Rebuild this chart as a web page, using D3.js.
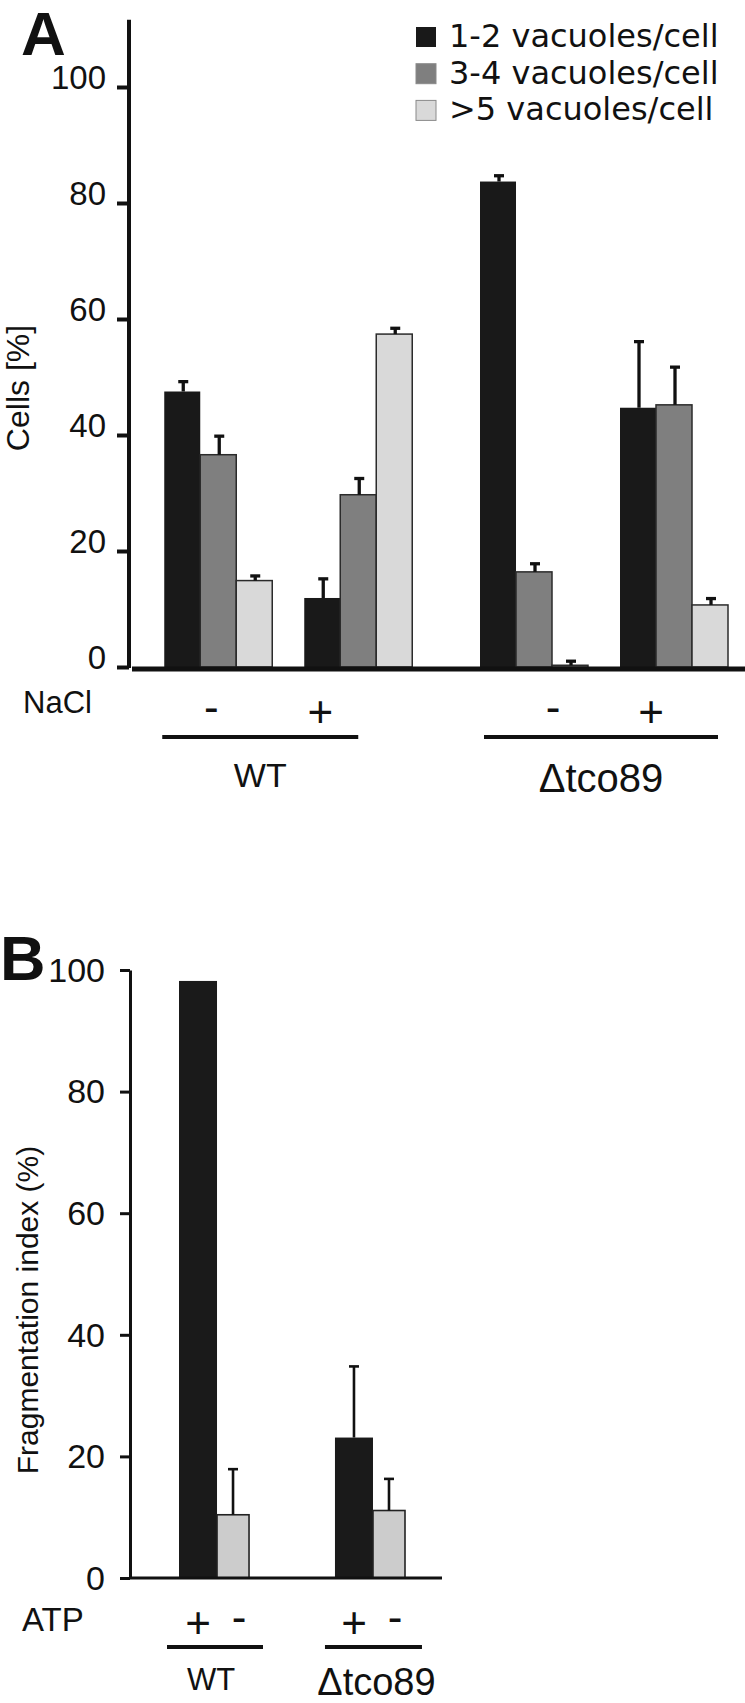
<!DOCTYPE html>
<html>
<head>
<meta charset="utf-8">
<script src="https://cdn.jsdelivr.net/npm/d3@7"></script>
<style>
  html, body { margin: 0; padding: 0; background: #fff; }
  svg { display: block; font-family: "Liberation Sans", Arial, Helvetica, sans-serif; }
</style>
</head>
<body>
<svg id="chart" width="745" height="1703"></svg>
<script>
// ---------- Panel A data ----------
const seriesA = ["1-2 vacuoles/cell", "3-4 vacuoles/cell", ">5 vacuoles/cell"];
const strainA = ["WT", "WT", "Δtco89", "Δtco89"];
const naclA = ["-", "+", "-", "+"];
const vac12 = [47.5, 11.9, 83.7, 44.7];
const vac12Err = [1.7, 3.3, 1.0, 11.4];
const vac34 = [36.6, 29.7, 16.4, 45.2];
const vac34Err = [3.2, 2.8, 1.4, 6.5];
const vac5 = [14.9, 57.4, 0.3, 10.7];
const vac5Err = [0.8, 1.0, 0.7, 1.1];
const yTicksA = [0, 20, 40, 60, 80, 100];

// ---------- Panel B data ----------
const strainB = ["WT", "Δtco89"];
const atpLevels = ["+", "-"];
const atpPlus = [98.2, 23.1];
const atpPlusErr = [0, 11.7];
const atpMinus = [10.4, 11.1];
const atpMinusErr = [7.5, 5.2];
const yTicksB = [0, 20, 40, 60, 80, 100];

const colorsA = ["#191919", "#7f7f7f", "#d9d9d9"];
const colorsB = ["#1a1a1a", "#cccccc"];
const SANS = "Liberation Sans, Arial, Helvetica, sans-serif";
const WIDE = "DejaVu Sans, Verdana, sans-serif";

const svg = d3.select("#chart");
svg.append("rect").attr("width", 745).attr("height", 1703).attr("fill", "#fff");

// =================== PANEL A ===================
const gA = svg.append("g").attr("font-family", SANS).attr("fill", "#111");
const yA = d3.scaleLinear().domain([0, 100]).range([667, 87]);
const strainsA = ["WT", "Δtco89"];
const xStrainA = d3.scaleBand().domain(strainsA).range([164.25, 728]).paddingInner(0.2146).paddingOuter(0);
const xNaclA = d3.scaleBand().domain(["-", "+"]).range([0, xStrainA.bandwidth()]).paddingInner(0.2286).paddingOuter(0);
const xSerA = d3.scaleBand().domain(seriesA).range([0, xNaclA.bandwidth()]).padding(0);

const valsA = [vac12, vac34, vac5];
const errsA = [vac12Err, vac34Err, vac5Err];

const barsA = [];
strainA.forEach((s, i) => {
  seriesA.forEach((ser, k) => {
    barsA.push({ strain: s, nacl: naclA[i], ser, k, v: valsA[k][i], e: errsA[k][i] });
  });
});
const bx = d => xStrainA(d.strain) + xNaclA(d.nacl) + xSerA(d.ser);

gA.selectAll("rect.bar").data(barsA).join("rect")
  .attr("class", "bar")
  .attr("x", bx)
  .attr("width", xSerA.bandwidth())
  .attr("y", d => yA(d.v))
  .attr("height", d => yA(0) - yA(d.v))
  .attr("fill", d => colorsA[d.k])
  .attr("stroke", d => d.k === 0 ? "none" : "#2b2b2b")
  .attr("stroke-width", 1.5);

// error bars
const ebA = gA.selectAll("g.eb").data(barsA.filter(d => d.e > 0)).join("g").attr("class", "eb");
ebA.append("line")
  .attr("x1", d => bx(d) + xSerA.bandwidth() / 2 + 1)
  .attr("x2", d => bx(d) + xSerA.bandwidth() / 2 + 1)
  .attr("y1", d => yA(d.v))
  .attr("y2", d => yA(d.v + d.e))
  .attr("stroke", "#111").attr("stroke-width", 3.3);
ebA.append("line")
  .attr("x1", d => bx(d) + xSerA.bandwidth() / 2 + 1 - 5)
  .attr("x2", d => bx(d) + xSerA.bandwidth() / 2 + 1 + 5)
  .attr("y1", d => yA(d.v + d.e))
  .attr("y2", d => yA(d.v + d.e))
  .attr("stroke", "#111").attr("stroke-width", 3.3);

// y axis A
const axA = gA.append("g").attr("transform", "translate(129,0)")
  .call(d3.axisLeft(yA).tickValues(yTicksA).tickSize(12).tickPadding(11).tickSizeOuter(0));
axA.select(".domain").remove();
axA.selectAll(".tick line").attr("stroke", "#111").attr("stroke-width", 4);
axA.selectAll(".tick text").attr("font-size", 33).attr("dy", "0.04em")
  .attr("font-family", SANS).attr("fill", "#111");
gA.append("line").attr("x1", 129).attr("x2", 129).attr("y1", yA(111.6)).attr("y2", yA(0) + 1)
  .attr("stroke", "#111").attr("stroke-width", 4);
// x axis A
gA.append("line").attr("x1", 132).attr("x2", 745).attr("y1", yA(0) + 2).attr("y2", yA(0) + 2)
  .attr("stroke", "#111").attr("stroke-width", 5);

// y title A
gA.append("text").attr("transform", `translate(29,${388}) rotate(-90)`)
  .attr("text-anchor", "middle").attr("font-size", 32).text("Cells [%]");

// panel letter
svg.append("text").attr("x", 21).attr("y", 55).attr("font-family", SANS).attr("fill", "#111")
  .attr("font-size", 62).attr("font-weight", "bold").text("A");

// legend A
const legA = gA.append("g").attr("transform", "translate(416,27)");
const legRow = legA.selectAll("g").data(seriesA).join("g")
  .attr("transform", (d, i) => `translate(0,${i * 36.7})`);
legRow.append("rect").attr("width", 20).attr("height", 20)
  .attr("fill", (d, i) => colorsA[i])
  .attr("stroke", (d, i) => i === 0 ? "none" : "#8a8a8a").attr("stroke-width", 1);
legRow.append("text").attr("x", 33).attr("y", 20).attr("font-size", 32)
  .attr("font-family", WIDE).text(d => d);

// NaCl row
gA.append("text").attr("x", 23).attr("y", 713).attr("font-size", 31).text("NaCl");
const naclShift = [-7, -38, 19, -23];
gA.selectAll("text.nacl").data(strainA.map((s, i) => ({ s, n: naclA[i], i }))).join("text")
  .attr("class", "nacl")
  .attr("x", d => xStrainA(d.s) + xNaclA(d.n) + xNaclA.bandwidth() / 2 + naclShift[d.i])
  .attr("y", d => d.n === "+" ? 727 : 722)
  .attr("text-anchor", "middle").attr("font-size", 44).text(d => d.n);

// strain underlines + labels A
const underA = { "WT": [-2, 194], "Δtco89": [4, 238] };
strainsA.forEach(s => {
  const x0 = xStrainA(s) + underA[s][0], x1 = xStrainA(s) + underA[s][1];
  gA.append("line").attr("x1", x0).attr("x2", x1).attr("y1", 737).attr("y2", 737)
    .attr("stroke", "#111").attr("stroke-width", 4);
  gA.append("text").attr("x", (x0 + x1) / 2).attr("y", s === "WT" ? 787 : 792)
    .attr("text-anchor", "middle").attr("font-size", s === "WT" ? 34 : 40).text(s);
});

// =================== PANEL B ===================
const gB = svg.append("g").attr("font-family", SANS).attr("fill", "#111");
const yB = d3.scaleLinear().domain([0, 100]).range([1578, 970]);
const xStrainB = d3.scaleBand().domain(strainB).range([179, 405]).paddingInner(0.551).paddingOuter(0);
const shareB = [38 / 70, 32 / 70];

const barsB = [];
strainB.forEach((s, i) => {
  const bw = xStrainB.bandwidth();
  barsB.push({ s, k: 0, lvl: atpLevels[0], v: atpPlus[i], e: atpPlusErr[i], x: xStrainB(s), w: bw * shareB[0] });
  barsB.push({ s, k: 1, lvl: atpLevels[1], v: atpMinus[i], e: atpMinusErr[i], x: xStrainB(s) + bw * shareB[0], w: bw * shareB[1] });
});

gB.selectAll("rect.bar").data(barsB).join("rect")
  .attr("class", "bar")
  .attr("x", d => d.x).attr("width", d => d.w)
  .attr("y", d => yB(d.v)).attr("height", d => yB(0) - yB(d.v))
  .attr("fill", d => colorsB[d.k])
  .attr("stroke", d => d.k === 0 ? "none" : "#222").attr("stroke-width", 1.6);

const ebB = gB.selectAll("g.eb").data(barsB.filter(d => d.e > 0)).join("g").attr("class", "eb");
ebB.append("line")
  .attr("x1", d => d.x + d.w / 2).attr("x2", d => d.x + d.w / 2)
  .attr("y1", d => yB(d.v)).attr("y2", d => yB(d.v + d.e))
  .attr("stroke", "#111").attr("stroke-width", 2.6);
ebB.append("line")
  .attr("x1", d => d.x + d.w / 2 - 5).attr("x2", d => d.x + d.w / 2 + 5)
  .attr("y1", d => yB(d.v + d.e)).attr("y2", d => yB(d.v + d.e))
  .attr("stroke", "#111").attr("stroke-width", 2.6);

const axB = gB.append("g").attr("transform", "translate(130,0)")
  .call(d3.axisLeft(yB).tickValues(yTicksB).tickSize(10).tickPadding(15).tickSizeOuter(0));
axB.select(".domain").attr("stroke", "#111").attr("stroke-width", 3);
axB.selectAll(".tick line").attr("stroke", "#111").attr("stroke-width", 3);
axB.selectAll(".tick text").attr("font-size", 34).attr("dy", "0.33em")
  .attr("font-family", SANS).attr("fill", "#111");
gB.append("line").attr("x1", 130).attr("x2", 442).attr("y1", yB(0)).attr("y2", yB(0))
  .attr("stroke", "#111").attr("stroke-width", 3);

gB.append("text").attr("transform", `translate(38,1310) rotate(-90)`)
  .attr("text-anchor", "middle").attr("font-size", 30).text("Fragmentation index (%)");

svg.append("text").attr("x", 0).attr("y", 980).attr("font-family", SANS).attr("fill", "#111")
  .attr("font-size", 63).attr("font-weight", "bold").text("B");

gB.append("text").attr("x", 22).attr("y", 1631).attr("font-size", 33).text("ATP");
gB.selectAll("text.atp").data(barsB).join("text")
  .attr("class", "atp")
  .attr("x", d => d.x + d.w / 2 + (d.lvl === "-" ? 6 : 0))
  .attr("y", d => d.lvl === "+" ? 1638 : 1632)
  .attr("text-anchor", "middle").attr("font-size", 44).text(d => d.lvl);

const underB = { "WT": [-12, 84], "Δtco89": [-10, 87] };
strainB.forEach(s => {
  const x0 = xStrainB(s) + underB[s][0], x1 = xStrainB(s) + underB[s][1];
  gB.append("line").attr("x1", x0).attr("x2", x1).attr("y1", 1647).attr("y2", 1647)
    .attr("stroke", "#111").attr("stroke-width", 4);
  gB.append("text").attr("x", (x0 + x1) / 2 + (s === "WT" ? -4 : 3)).attr("y", s === "WT" ? 1690 : 1695)
    .attr("text-anchor", "middle").attr("font-size", s === "WT" ? 31 : 38).text(s);
});
</script>
</body>
</html>
